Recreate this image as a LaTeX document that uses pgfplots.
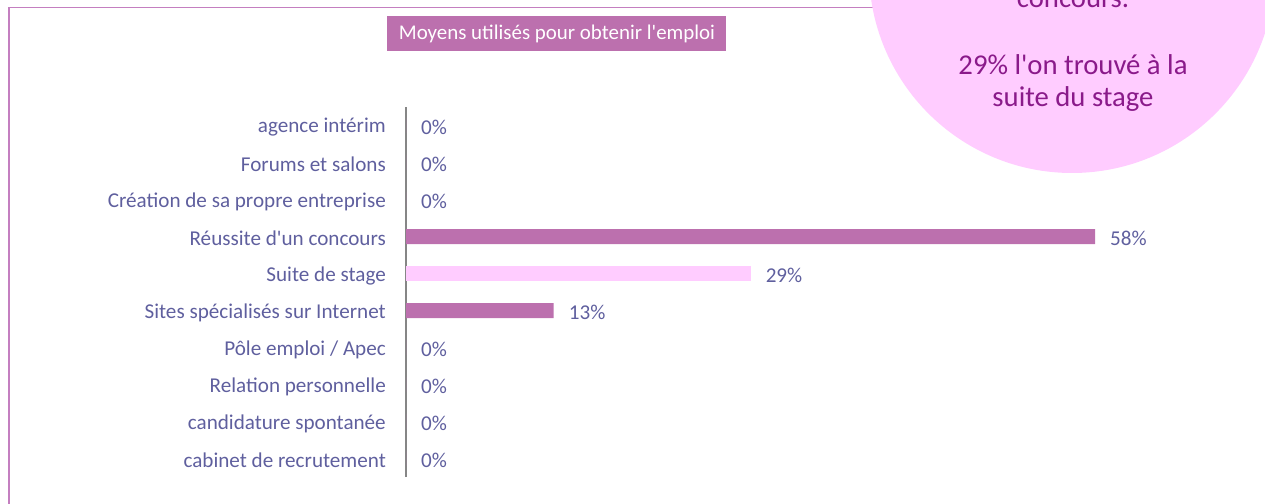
\documentclass[border=0pt]{standalone}
\usepackage{pgfplots}
\pgfplotsset{compat=1.18}
\usepackage{fontspec}
\setmainfont{Carlito}
\definecolor{barpurple}{HTML}{BC70AE}
\definecolor{barpink}{HTML}{FFCCFF}
\definecolor{labelcol}{HTML}{5F5F9E}
\definecolor{framecol}{HTML}{C47FC0}
\definecolor{circtext}{HTML}{8A1A8A}
\definecolor{axisgray}{HTML}{868686}

\begin{document}
\begin{tikzpicture}[x=1bp,y=-1bp]
\useasboundingbox (0,0) rectangle (1265,504);
\begin{scope}
\clip (0,0) rectangle (1265,504);
\draw[framecol, line width=1.5bp] (9,520) -- (9,7.5) -- (1300,7.5);
\fill[barpink] (1072,-30) circle[radius=203];
\node[circtext, font=\fontsize{28.8}{33}\selectfont, anchor=base, inner sep=0pt] at (1073,8) {concours.};
\node[circtext, font=\fontsize{28.8}{33}\selectfont, anchor=base, inner sep=0pt] at (1073,75) {29\% l\textquotesingle on trouvé à la};
\node[circtext, font=\fontsize{28.8}{33}\selectfont, anchor=base, inner sep=0pt] at (1073,107) {suite du stage};
\fill[barpurple] (387,16) rectangle (726,51);
\node[white, font=\fontsize{21}{25}\selectfont, anchor=base, inner sep=0pt] at (557,40) {Moyens utilisés pour obtenir l\textquotesingle emploi};
\end{scope}
\begin{axis}[
  at={(406bp,-477bp)}, anchor=south west,
  scale only axis, width=689bp, height=370bp,
  xmin=0, xmax=58.33, ymin=-0.5, ymax=9.5,
  xbar, bar width=15bp, bar shift=0pt,
  axis x line=none, axis y line*=left,
  y axis line style={axisgray, line width=1.5bp},
  ytick={0,...,9},
  yticklabels={cabinet de recrutement, candidature spontanée, Relation personnelle, Pôle emploi / Apec, Sites spécialisés sur Internet, Suite de stage, Réussite d\textquotesingle un concours, Création de sa propre entreprise, Forums et salons, agence intérim},
  major tick length=0pt,
  yticklabel style={labelcol, font=\fontsize{21.2}{25}\selectfont, inner xsep=0pt, xshift=-20bp, yshift=-2bp},
  point meta=explicit symbolic,
  nodes near coords={\pgfplotspointmeta\%},
  nodes near coords style={labelcol, font=\fontsize{21.2}{25}\selectfont, anchor=west, inner xsep=0pt, xshift=15bp, yshift=-2bp},
  clip=false,
]
\addplot[fill=barpurple, draw=none] coordinates {(0,0) [0] (0,1) [0] (0,2) [0] (0,3) [0] (12.5,4) [13] (58.33,6) [58] (0,7) [0] (0,8) [0] (0,9) [0]};
\addplot[fill=barpink, draw=none] coordinates {(29.17,5) [29]};
\end{axis}
\end{tikzpicture}
\end{document}
